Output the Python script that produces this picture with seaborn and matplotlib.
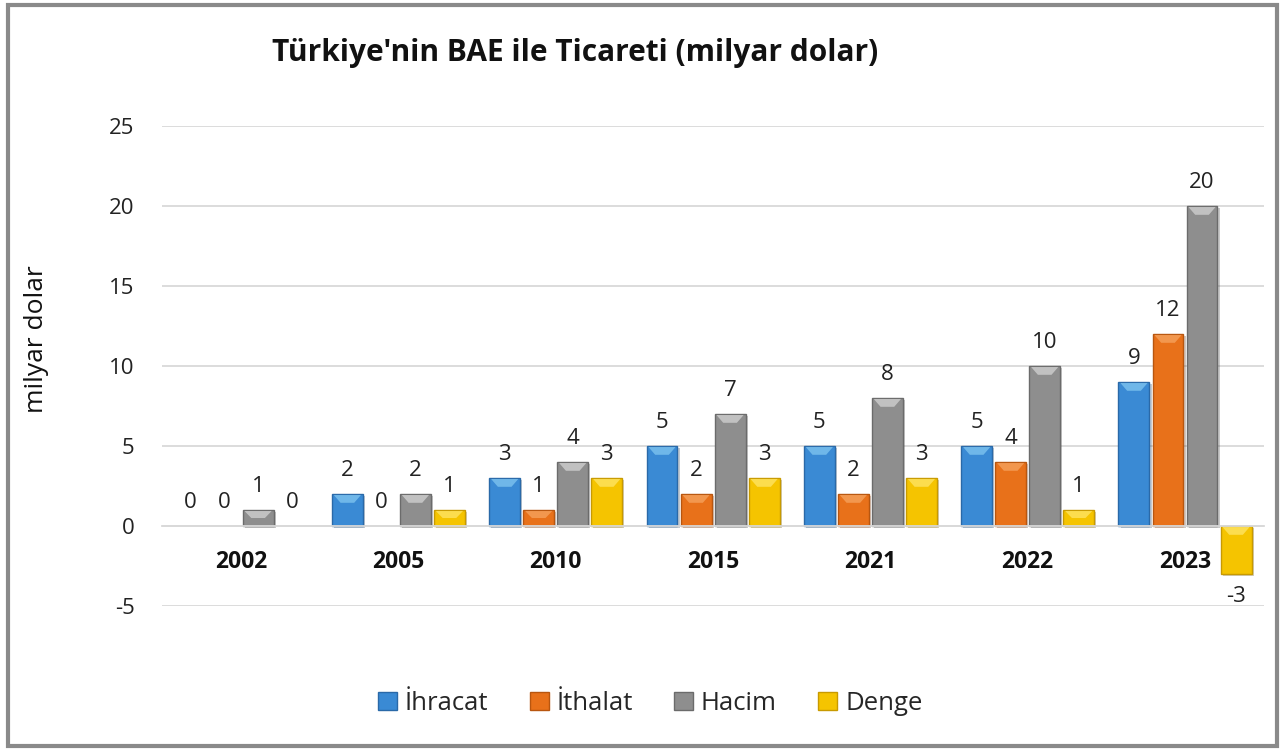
import matplotlib
matplotlib.use("Agg")
import matplotlib.pyplot as plt
import matplotlib.patheffects as pe
from matplotlib.patches import Rectangle, Polygon
import seaborn as sns
import pandas as pd

years = ["2002", "2005", "2010", "2015", "2021", "2022", "2023"]
series = ["İhracat", "İthalat", "Hacim", "Denge"]
ihracat = [0, 2, 3, 5, 5, 5, 9]
ithalat = [0, 0, 1, 2, 2, 4, 12]
hacim = [1, 2, 4, 7, 8, 10, 20]
denge = [0, 1, 3, 3, 3, 1, -3]
colors = ["#3A8AD4", "#E8711A", "#8E8E8E", "#F5C400"]
edge_colors = ["#2A69A8", "#B8560F", "#6B6B6B", "#C89A00"]
bevel_colors = ["#86CBF2", "#F7A865", "#D8D8D8", "#FFE870"]

values = {"İhracat": ihracat, "İthalat": ithalat, "Hacim": hacim, "Denge": denge}
rows = []
for s in series:
    for y, v in zip(years, values[s]):
        rows.append({"Yıl": y, "Seri": s, "Değer": v})
df = pd.DataFrame(rows)

sns.set_theme(style="white")
plt.rcParams["font.family"] = ["Open Sans", "DejaVu Sans"]
plt.rcParams["axes.unicode_minus"] = False

fig = plt.figure(figsize=(12.85, 7.5), dpi=100)
ax = fig.add_axes([0.1264, 0.192, 0.857, 0.64])

sns.barplot(data=df, x="Yıl", y="Değer", hue="Seri", order=years,
            hue_order=series, palette=colors, width=0.865, gap=0.09,
            ax=ax, legend=False, saturation=1)

ax.set_ylim(-5, 25)
ax.set_xlim(-0.5, len(years) - 0.5)
ax.set_yticks(range(-5, 30, 5))
ax.yaxis.grid(True, color="#D9D9D9", linewidth=1.3)
ax.set_axisbelow(True)
for sp in ["top", "right", "left"]:
    ax.spines[sp].set_visible(False)
ax.spines["bottom"].set_position(("data", 0))
ax.spines["bottom"].set_color("#D9D9D9")
ax.spines["bottom"].set_linewidth(1.3)
ax.tick_params(axis="x", length=0, pad=17, labelsize=16.5)
ax.tick_params(axis="y", length=0, pad=20, labelsize=16, labelcolor="#222222")
for lbl in ax.get_xticklabels():
    lbl.set_fontweight("bold")
    lbl.set_color("#111111")
ax.set_xlabel("")
ax.set_ylabel("milyar dolar", fontsize=19, color="#111111")
ax.yaxis.set_label_coords(-0.103, 0.555)

# bar styling + value labels
for i, cont in enumerate(ax.containers):
    for bar, v in zip(cont, cont.datavalues):
        bar.set_edgecolor(edge_colors[i])
        bar.set_linewidth(1.0 if v != 0 else 0)
        if v != 0:
            bar.set_path_effects([pe.SimplePatchShadow(offset=(1.5, -1.5), alpha=0.25), pe.Normal()])
            x0 = bar.get_x()
            w = bar.get_width()
            top = max(bar.get_y(), bar.get_y() + bar.get_height())
            d = min(0.55, abs(v) / 2)
            ax.add_patch(Polygon([(x0 + w * 0.06, top - 0.06), (x0 + w * 0.94, top - 0.06),
                                  (x0 + w * 0.72, top - d), (x0 + w * 0.28, top - d)],
                                 closed=True, facecolor=bevel_colors[i], edgecolor="none",
                                 alpha=0.7, zorder=bar.get_zorder() + 0.1))
    labels = [f"{v:g}" for v in cont.datavalues]
    ax.bar_label(cont, labels=labels, padding=9, fontsize=16, color="#222222")

fig.text(0.4475, 0.93, "Türkiye'nin BAE ile Ticareti (milyar dolar)",
         ha="center", va="center", fontsize=21.5, fontweight="bold", color="#111111")

handles = [Rectangle((0, 0), 1, 1, facecolor=c, edgecolor=e) for c, e in zip(colors, edge_colors)]
fig.legend(handles, series, loc="center", bbox_to_anchor=(0.506, 0.062), ncol=4,
           frameon=False, fontsize=18.5, handlelength=0.75, handleheight=0.75,
           handletextpad=0.3, columnspacing=1.6)

fig.patches.append(Rectangle((0.006, 0.006), 0.988, 0.988, transform=fig.transFigure,
                             fill=False, edgecolor="#8A8A8A", linewidth=3))

fig.savefig("out.png", dpi=100)
